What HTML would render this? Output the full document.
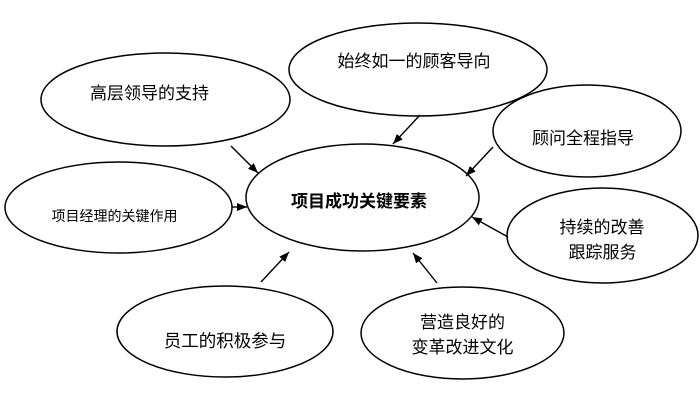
<!DOCTYPE html>
<html>
<head>
<meta charset="utf-8">
<style>
  html, body { margin:0; padding:0; background:#fff; }
  svg { display:block; }
  text { font-family: "Liberation Sans", "Noto Sans CJK SC", "WenQuanYi Zen Hei", sans-serif; fill:#000; }
</style>
</head>
<body>
<svg width="700" height="400" viewBox="0 0 700 400" xmlns="http://www.w3.org/2000/svg">
  <defs>
    <marker id="ah" markerWidth="10" markerHeight="8" refX="10" refY="4" orient="auto" markerUnits="userSpaceOnUse">
      <path d="M0,0 L10,4 L0,8 Z" fill="#000"/>
    </marker>
  </defs>
  <g fill="none" stroke="#000" stroke-width="1.5">
    <ellipse cx="165.5" cy="99.5" rx="124.5" ry="46.5"/>
    <ellipse cx="418" cy="69.5" rx="129" ry="46.5"/>
    <ellipse cx="587" cy="131" rx="94" ry="46"/>
    <ellipse cx="362.5" cy="197.5" rx="116.5" ry="53.5"/>
    <ellipse cx="118.5" cy="207.5" rx="113.5" ry="45.5"/>
    <ellipse cx="602.5" cy="235.5" rx="95.5" ry="47.5"/>
    <ellipse cx="225" cy="331.5" rx="108" ry="45.5"/>
    <ellipse cx="462.5" cy="333" rx="101.5" ry="46"/>
  </g>
  <g stroke="#000" stroke-width="1.4" marker-end="url(#ah)">
    <line x1="231" y1="146" x2="258" y2="173"/>
    <line x1="232" y1="207" x2="247" y2="207"/>
    <line x1="420" y1="115" x2="393" y2="144"/>
    <line x1="493" y1="147" x2="466" y2="176"/>
    <line x1="261" y1="282" x2="289" y2="252"/>
    <line x1="437" y1="283" x2="413" y2="253"/>
    <line x1="508" y1="237" x2="472" y2="217"/>
  </g>
  <g text-anchor="middle" font-size="17">
    <text x="149.5" y="99">高层领导的支持</text>
    <text x="414" y="67">始终如一的顾客导向</text>
    <text x="583" y="144">顾问全程指导</text>
    <text x="114.5" y="221" font-size="14">项目经理的关键作用</text>
    <text x="359" y="207" font-weight="bold">项目成功关键要素</text>
    <text x="602" y="233">持续的改善</text>
    <text x="602.5" y="258">跟踪服务</text>
    <text x="225" y="347" font-size="17.5">员工的积极参与</text>
    <text x="462.5" y="328">营造良好的</text>
    <text x="462.5" y="353">变革改进文化</text>
  </g>
</svg>
</body>
</html>
